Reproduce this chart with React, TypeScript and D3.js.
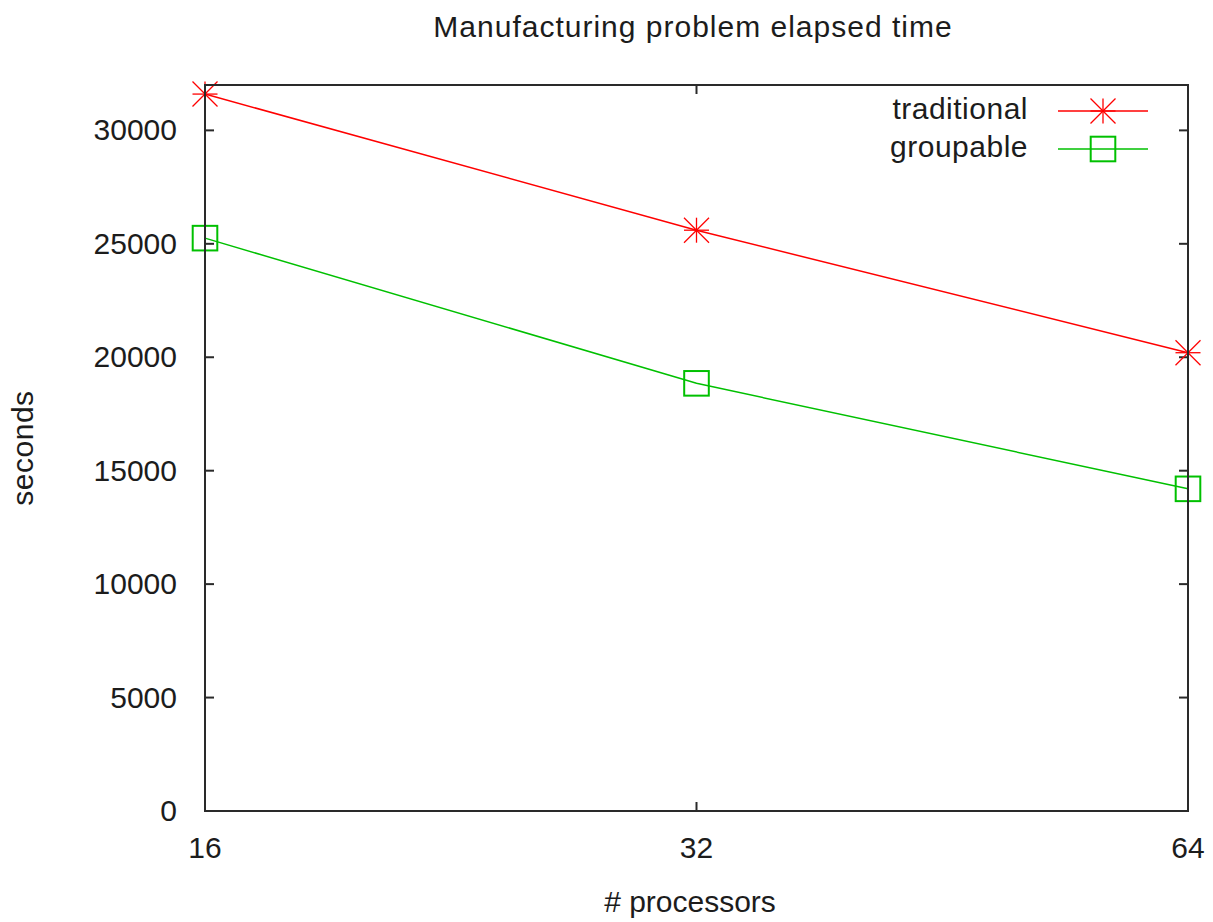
import React from "react";
import * as d3 from "d3";

const processors = [16, 32, 64];
const traditional = [31600, 25600, 20200];
const groupable = [25250, 18850, 14200];
const yTicks = [0, 5000, 10000, 15000, 20000, 25000, 30000];
const seriesNames = ["traditional", "groupable"];

const W = 1213;
const H = 922;
const M = { left: 205, right: 1188, top: 85, bottom: 811 };
const FONT = "'Liberation Sans', Arial, sans-serif";
const RED = "#ff0000";
const GREEN = "#00c000";
const FRAME = "#2a2a2a";
const TXT = "#1c1c1c";

function Star({ x, y, r }: { x: number; y: number; r: number }) {
  return (
    <g stroke={RED} strokeWidth={1.3}>
      <line x1={x - r} y1={y} x2={x + r} y2={y} />
      <line x1={x} y1={y - r} x2={x} y2={y + r} />
      <line x1={x - r} y1={y - r} x2={x + r} y2={y + r} />
      <line x1={x - r} y1={y + r} x2={x + r} y2={y - r} />
    </g>
  );
}

function Square({ x, y, r }: { x: number; y: number; r: number }) {
  return (
    <rect x={x - r} y={y - r} width={2 * r} height={2 * r} fill="none" stroke={GREEN} strokeWidth={2} />
  );
}

export default function App() {
  const xs = d3.scaleLog().base(2).domain([16, 64]).range([M.left, M.right]);
  const ys = d3.scaleLinear().domain([0, 32000]).range([M.bottom, M.top]);
  const line = d3
    .line<number>()
    .x((_, i) => xs(processors[i]))
    .y((d) => ys(d));
  const tick = 9;

  return (
    <svg
      width={W}
      height={H}
      style={{ position: "absolute", left: 0, top: 0, background: "#fff" }}
      fontFamily={FONT}
    >
      <rect x={0} y={0} width={W} height={H} fill="#fff" />
      <text x={693} y={37} fontSize={30} textAnchor="middle" letterSpacing={1} fill={TXT}>
        Manufacturing problem elapsed time
      </text>

      {/* y ticks */}
      {yTicks.map((t) => (
        <g key={t}>
          <line x1={M.left} x2={M.left + tick} y1={ys(t)} y2={ys(t)} stroke={FRAME} strokeWidth={2} />
          <line x1={M.right - tick} x2={M.right} y1={ys(t)} y2={ys(t)} stroke={FRAME} strokeWidth={2} />
          <text x={177} y={ys(t) + 10} fontSize={30} textAnchor="end" fill={TXT}>
            {t}
          </text>
        </g>
      ))}

      {/* x ticks */}
      {processors.map((p) => (
        <g key={p}>
          <line x1={xs(p)} x2={xs(p)} y1={M.bottom} y2={M.bottom - tick} stroke={FRAME} strokeWidth={2} />
          <line x1={xs(p)} x2={xs(p)} y1={M.top} y2={M.top + tick} stroke={FRAME} strokeWidth={2} />
          <text x={xs(p)} y={858} fontSize={30} textAnchor="middle" fill={TXT}>
            {p}
          </text>
        </g>
      ))}

      <text x={690} y={912} fontSize={30} textAnchor="middle" fill={TXT}>
        # processors
      </text>
      <text
        transform={`translate(33, ${(M.top + M.bottom) / 2}) rotate(-90)`}
        fontSize={30}
        textAnchor="middle"
        letterSpacing={0.5}
        fill={TXT}
      >
        seconds
      </text>

      {/* series */}
      <path d={line(traditional) || ""} fill="none" stroke={RED} strokeWidth={1.5} />
      <path d={line(groupable) || ""} fill="none" stroke={GREEN} strokeWidth={1.5} />
      {traditional.map((v, i) => (
        <Star key={i} x={xs(processors[i])} y={ys(v)} r={12.5} />
      ))}
      {groupable.map((v, i) => (
        <Square key={i} x={xs(processors[i])} y={ys(v)} r={12.3} />
      ))}

      {/* frame */}
      <rect
        x={M.left}
        y={M.top}
        width={M.right - M.left}
        height={M.bottom - M.top}
        fill="none"
        stroke={FRAME}
        strokeWidth={2}
      />

      {/* legend */}
      {seriesNames.map((name, i) => {
        const ly = 111 + i * 38;
        return (
          <g key={name}>
            <text x={1028} y={ly + 8} fontSize={30} textAnchor="end" letterSpacing={0.5} fill={TXT}>
              {name}
            </text>
            <line x1={1058} x2={1148} y1={ly} y2={ly} stroke={i === 0 ? RED : GREEN} strokeWidth={1.5} />
            {i === 0 ? <Star x={1103} y={ly} r={12.5} /> : <Square x={1103} y={ly} r={12.3} />}
          </g>
        );
      })}
    </svg>
  );
}
